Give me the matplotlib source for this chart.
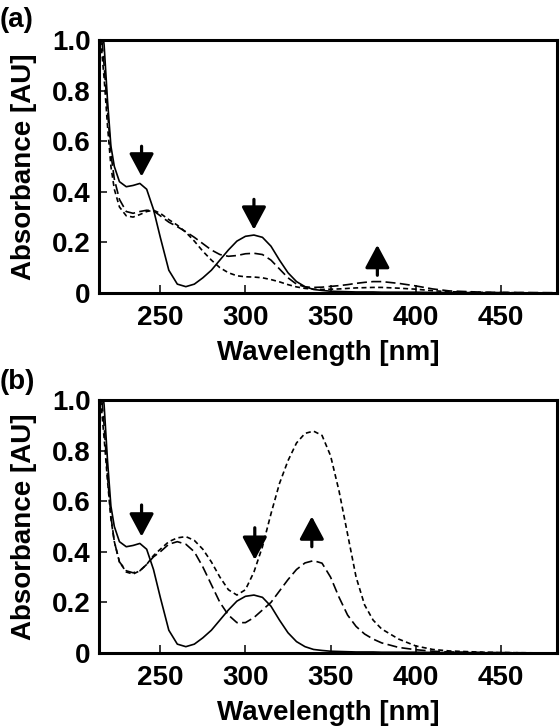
import numpy as np
import matplotlib
matplotlib.use('Agg')
import matplotlib.pyplot as plt

plt.rcParams['font.family'] = ['Liberation Sans', 'DejaVu Sans']
plt.rcParams['font.weight'] = 'bold'

# wavelength grid [nm]
wl = [215, 217, 219, 221, 223, 226, 230, 234, 238, 242, 246, 250, 255, 260, 265,
      270, 275, 280, 285, 290, 295, 300, 305, 310, 315, 320, 325, 330, 335, 340,
      345, 350, 355, 360, 365, 370, 375, 380, 390, 400, 410, 420, 440, 460, 483]

# solid line (same starting spectrum in both panels)
solid = [1.10, 0.98, 0.76, 0.58, 0.50, 0.44, 0.42, 0.425, 0.433, 0.41, 0.33, 0.22, 0.09, 0.035, 0.025,
         0.035, 0.06, 0.09, 0.13, 0.17, 0.205, 0.224, 0.229, 0.22, 0.185, 0.13, 0.08, 0.045, 0.025, 0.014,
         0.010, 0.007, 0.006, 0.005, 0.004, 0.004, 0.004, 0.003, 0.003, 0.003, 0.002, 0.002, 0.001, 0.0, 0.0]

# panel (a)
a_long = [1.05, 0.90, 0.72, 0.55, 0.45, 0.37, 0.322, 0.315, 0.322, 0.327, 0.325, 0.305, 0.28, 0.262, 0.242,
          0.22, 0.195, 0.17, 0.152, 0.145, 0.148, 0.155, 0.157, 0.152, 0.13, 0.095, 0.06, 0.035, 0.024, 0.022,
          0.023, 0.026, 0.029, 0.033, 0.038, 0.042, 0.045, 0.045, 0.038, 0.028, 0.016, 0.008, 0.003, 0.002, 0.001]
a_short = [1.00, 0.85, 0.66, 0.50, 0.41, 0.34, 0.305, 0.30, 0.31, 0.322, 0.327, 0.315, 0.29, 0.268, 0.24,
           0.205, 0.165, 0.13, 0.10, 0.08, 0.068, 0.064, 0.063, 0.06, 0.053, 0.044, 0.033, 0.024, 0.018, 0.015,
           0.014, 0.015, 0.016, 0.018, 0.02, 0.021, 0.022, 0.022, 0.019, 0.015, 0.009, 0.005, 0.002, 0.001, 0.0]

# panel (b)
b_long = [1.05, 0.90, 0.70, 0.54, 0.44, 0.36, 0.325, 0.317, 0.325, 0.35, 0.38, 0.40, 0.43, 0.44, 0.43,
          0.40, 0.34, 0.27, 0.20, 0.15, 0.12, 0.12, 0.14, 0.17, 0.20, 0.245, 0.29, 0.33, 0.356, 0.365,
          0.355, 0.30, 0.22, 0.15, 0.105, 0.075, 0.055, 0.04, 0.022, 0.013, 0.007, 0.004, 0.002, 0.001, 0.0]
b_short = [1.00, 0.85, 0.68, 0.53, 0.44, 0.36, 0.32, 0.312, 0.325, 0.35, 0.385, 0.41, 0.44, 0.455, 0.46,
           0.445, 0.41, 0.36, 0.30, 0.25, 0.229, 0.25, 0.32, 0.42, 0.55, 0.67, 0.76, 0.83, 0.868, 0.877,
           0.86, 0.78, 0.64, 0.47, 0.30, 0.19, 0.13, 0.095, 0.055, 0.028, 0.014, 0.008, 0.003, 0.001, 0.0]

# arrows: (x, y_tail, y_tip)
a_arrows = [(239, 0.58, 0.46), (305, 0.37, 0.25), (377.5, 0.07, 0.19)]
b_arrows = [(239, 0.585, 0.46), (305.5, 0.495, 0.368), (339, 0.42, 0.54)]

panels = [
    ('(a)', [0.1768, 0.597, 0.8178, 0.348], a_long, a_short, a_arrows, 0.972),
    ('(b)', [0.1768, 0.1018, 0.8178, 0.348], b_long, b_short, b_arrows, 0.474),
]

fs = 20

fig = plt.figure(figsize=(5.6, 7.27), dpi=100)

for label, rect, long_y, short_y, arrows, label_y in panels:
    ax = fig.add_axes(rect)
    ax.plot(wl, solid, color='black', lw=1.2, ls='-')
    ax.plot(wl, long_y, color='black', lw=1.2, ls=(0, (6.0, 2.6)))
    ax.plot(wl, short_y, color='black', lw=1.2, ls=(0, (3.0, 2.0)))

    for x, y0, y1 in arrows:
        ax.annotate('', xy=(x, y1), xytext=(x, y0),
                    arrowprops=dict(arrowstyle='-|>,head_width=0.75,head_length=1.4',
                                    lw=2.3, color='black', shrinkA=0, shrinkB=0))

    ax.set_xlim(214, 483)
    ax.set_ylim(0, 1.0)
    ax.set_xticks([250, 300, 350, 400, 450])
    ax.set_yticks([0, 0.2, 0.4, 0.6, 0.8, 1.0])
    ax.set_yticklabels(['0', '0.2', '0.4', '0.6', '0.8', '1.0'])
    ax.tick_params(direction='in', length=6, width=1.1, labelsize=fs)
    ax.tick_params(axis='x', pad=9)
    ax.tick_params(axis='y', pad=6)
    for sp in ax.spines.values():
        sp.set_linewidth(2.2)
    ax.set_xlabel('Wavelength [nm]', fontsize=fs, fontweight='bold')
    ax.set_ylabel('Absorbance [AU]', fontsize=fs, fontweight='bold')
    ax.xaxis.set_label_coords(0.5, -0.185)
    ax.yaxis.set_label_coords(-0.135, 0.5)
    fig.text(0.0, label_y, label, fontsize=fs, fontweight='bold', va='center', ha='left')

plt.savefig('out.png', dpi=100)
